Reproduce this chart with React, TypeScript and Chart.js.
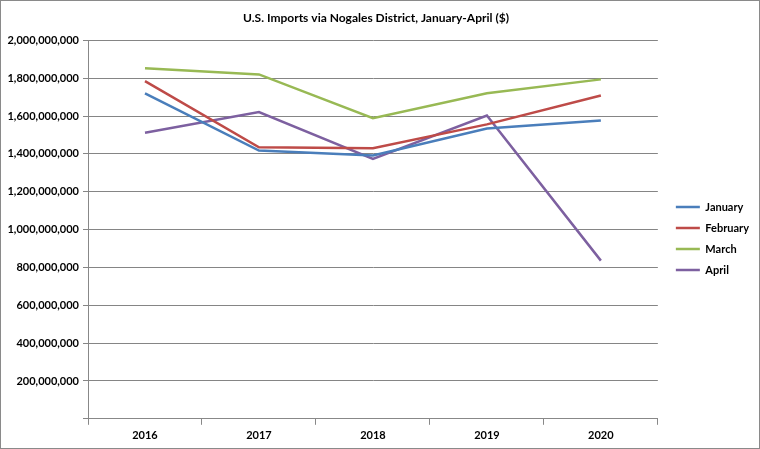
import React, { useEffect, useRef } from "react";
import { Chart, registerables } from "chart.js";

Chart.register(...registerables);

const years = ["2016", "2017", "2018", "2019", "2020"];
const january = [1720000000, 1418000000, 1392000000, 1534000000, 1577000000];
const february = [1785000000, 1435000000, 1430000000, 1556000000, 1709000000];
const march = [1853000000, 1820000000, 1589000000, 1721000000, 1794000000];
const april = [1512000000, 1621000000, 1374000000, 1603000000, 836000000];

const titleText = "U.S. Imports via Nogales District, January-April ($)";
const FONT = "Lato, 'Open Sans', sans-serif";

const legendShift = {
  id: "legendShift",
  afterLayout(chart: any) {
    const lg = chart.legend;
    if (!lg) return;
    const dx = 8;
    const dy = 15;
    lg.left += dx;
    lg.right += dx;
    lg.top += dy;
    lg.bottom += dy;
  },
};

export default function App() {
  const ref = useRef<HTMLCanvasElement | null>(null);

  useEffect(() => {
    document.body.style.margin = "0";
    if (!ref.current) return;
    const mk = (label: string, data: number[], color: string) => ({
      label,
      data,
      borderColor: color,
      backgroundColor: color,
      borderWidth: 2.5,
      pointRadius: 0,
      tension: 0,
      fill: false,
    });
    const chart = new Chart(ref.current, {
      type: "line",
      data: {
        labels: years,
        datasets: [
          mk("January", january, "#4A7EBB"),
          mk("February", february, "#BE4B48"),
          mk("March", march, "#98B954"),
          mk("April", april, "#7D60A0"),
        ],
      },
      plugins: [legendShift],
      options: {
        responsive: false,
        animation: false,
        layout: { padding: { left: 0, right: 8, top: 0, bottom: 2 } },
        plugins: {
          title: {
            display: true,
            text: titleText,
            color: "#000",
            font: { family: FONT, size: 12, weight: "bold" },
            padding: { top: 10, bottom: 15 },
          },
          legend: {
            position: "right",
            align: "center",
            labels: {
              usePointStyle: true,
              pointStyle: "line",
              pointStyleWidth: 24,
              color: "#000",
              font: { family: FONT, size: 11, weight: "bold" },
              padding: 10,
              boxHeight: 10,
            },
          },
          tooltip: { enabled: false },
        },
        scales: {
          x: {
            offset: true,
            grid: {
              offset: true,
              drawOnChartArea: false,
              drawTicks: true,
              tickLength: 6,
              color: "#888",
            },
            border: { color: "#888", width: 1 },
            ticks: {
              color: "#000",
              font: { family: FONT, size: 11, weight: "bold" },
              padding: 4,
            },
          },
          y: {
            min: 0,
            max: 2000000000,
            afterFit: (scale: any) => {
              scale.width = 87;
            },
            grid: {
              color: "#858585",
              lineWidth: 1,
              tickLength: 5,
            },
            border: { color: "#888", width: 1 },
            ticks: {
              stepSize: 200000000,
              color: "#000",
              font: { family: FONT, size: 11, weight: "bold" },
              padding: 4,
              callback: (v: any) =>
                Number(v) === 0 ? "" : Number(v).toLocaleString("en-US"),
            },
          },
        },
      },
    });
    return () => chart.destroy();
  }, []);

  return (
    <div
      style={{
        width: 760,
        height: 449,
        boxSizing: "border-box",
        border: "1px solid #8a8a8a",
        background: "#fff",
      }}
    >
      <canvas ref={ref} width={758} height={447} style={{ display: "block" }} />
    </div>
  );
}
